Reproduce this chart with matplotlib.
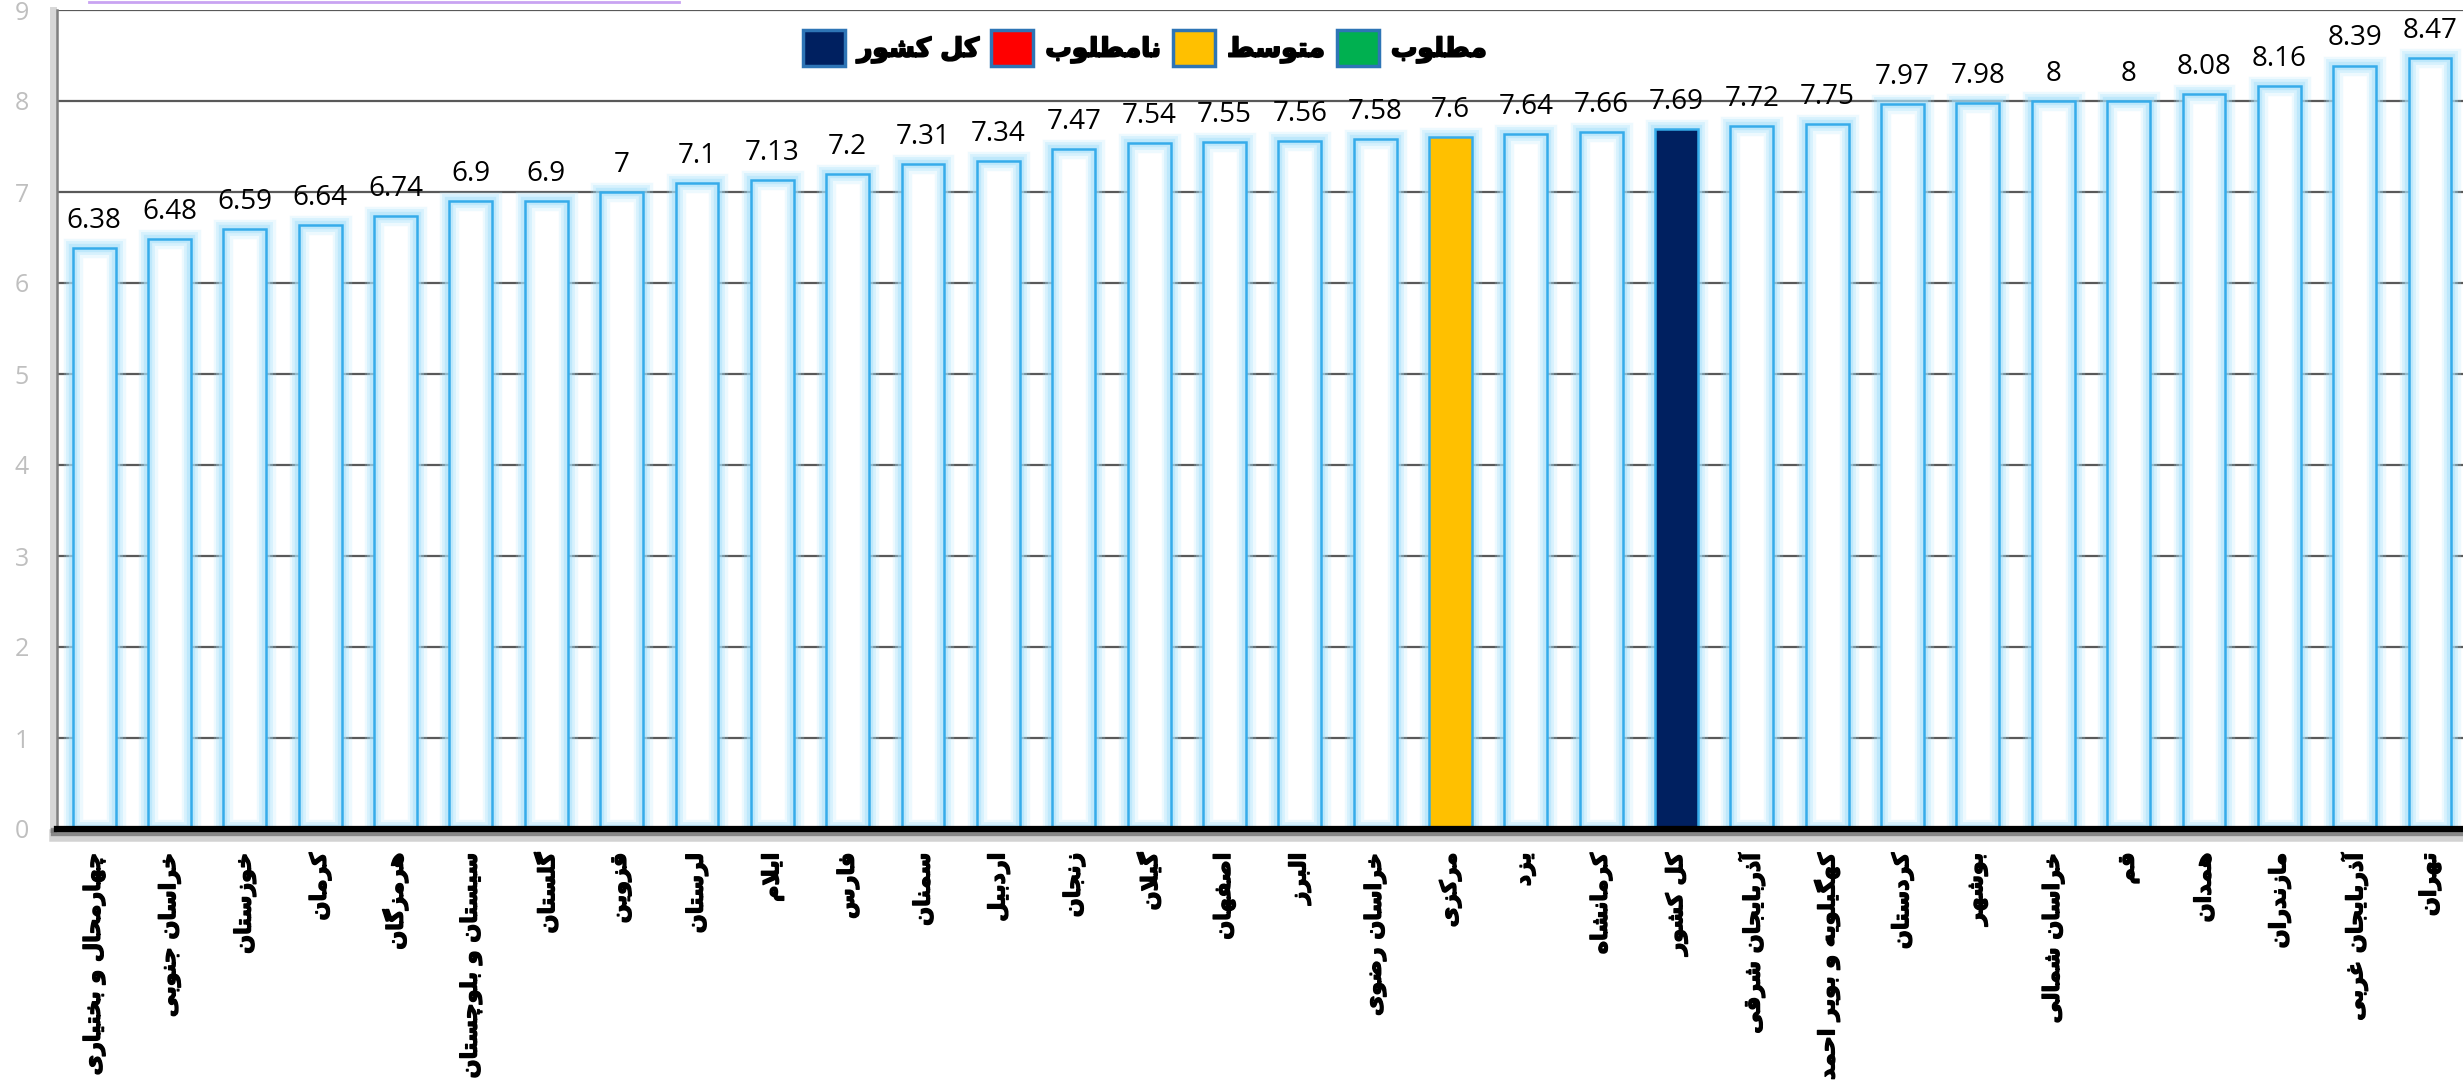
import numpy as np
import matplotlib
matplotlib.use("Agg")
import matplotlib.pyplot as plt
from matplotlib.patches import Patch
from matplotlib.lines import Line2D
import matplotlib.patheffects as pe

# ---------------- data ----------------
provinces = [
    "چهارمحال و بختیاری", "خراسان جنوبی", "خوزستان", "کرمان", "هرمزگان",
    "سیستان و بلوچستان", "گلستان", "قزوین", "لرستان", "ایلام", "فارس",
    "سمنان", "اردبیل", "زنجان", "گیلان", "اصفهان", "البرز", "خراسان رضوی",
    "مرکزی", "یزد", "کرمانشاه", "کل کشور", "آذربایجان شرقی",
    "کهگیلویه و بویر احمد", "کردستان", "بوشهر", "خراسان شمالی", "قم",
    "همدان", "مازندران", "آذربایجان غربی", "تهران",
]
scores = [
    6.38, 6.48, 6.59, 6.64, 6.74, 6.9, 6.9, 7, 7.1, 7.13, 7.2,
    7.31, 7.34, 7.47, 7.54, 7.55, 7.56, 7.58,
    7.6, 7.64, 7.66, 7.69, 7.72,
    7.75, 7.97, 7.98, 8, 8,
    8.08, 8.16, 8.39, 8.47,
]
average_province = "مرکزی"
national = "کل کشور"
legend_labels = ["کل کشور", "نامطلوب", "متوسط", "مطلوب"]
legend_colors = ["#002060", "#FF0000", "#FFC000", "#00B050"]
y_ticks = [0, 1, 2, 3, 4, 5, 6, 7, 8, 9]

# ------------- minimal Persian shaping (presentation forms + RTL) -------------
FORMS = {
    "\u0622": ("\uFE81", "\uFE82", None, None),
    "\u0623": ("\uFE83", "\uFE84", None, None),
    "\u0627": ("\uFE8D", "\uFE8E", None, None),
    "\u0628": ("\uFE8F", "\uFE90", "\uFE91", "\uFE92"),
    "\u067E": ("\uFB56", "\uFB57", "\uFB58", "\uFB59"),
    "\u062A": ("\uFE95", "\uFE96", "\uFE97", "\uFE98"),
    "\u062B": ("\uFE99", "\uFE9A", "\uFE9B", "\uFE9C"),
    "\u062C": ("\uFE9D", "\uFE9E", "\uFE9F", "\uFEA0"),
    "\u0686": ("\uFB7A", "\uFB7B", "\uFB7C", "\uFB7D"),
    "\u062D": ("\uFEA1", "\uFEA2", "\uFEA3", "\uFEA4"),
    "\u062E": ("\uFEA5", "\uFEA6", "\uFEA7", "\uFEA8"),
    "\u062F": ("\uFEA9", "\uFEAA", None, None),
    "\u0630": ("\uFEAB", "\uFEAC", None, None),
    "\u0631": ("\uFEAD", "\uFEAE", None, None),
    "\u0632": ("\uFEAF", "\uFEB0", None, None),
    "\u0698": ("\uFB8A", "\uFB8B", None, None),
    "\u0633": ("\uFEB1", "\uFEB2", "\uFEB3", "\uFEB4"),
    "\u0634": ("\uFEB5", "\uFEB6", "\uFEB7", "\uFEB8"),
    "\u0635": ("\uFEB9", "\uFEBA", "\uFEBB", "\uFEBC"),
    "\u0636": ("\uFEBD", "\uFEBE", "\uFEBF", "\uFEC0"),
    "\u0637": ("\uFEC1", "\uFEC2", "\uFEC3", "\uFEC4"),
    "\u0638": ("\uFEC5", "\uFEC6", "\uFEC7", "\uFEC8"),
    "\u0639": ("\uFEC9", "\uFECA", "\uFECB", "\uFECC"),
    "\u063A": ("\uFECD", "\uFECE", "\uFECF", "\uFED0"),
    "\u0641": ("\uFED1", "\uFED2", "\uFED3", "\uFED4"),
    "\u0642": ("\uFED5", "\uFED6", "\uFED7", "\uFED8"),
    "\u0643": ("\uFED9", "\uFEDA", "\uFEDB", "\uFEDC"),
    "\u06A9": ("\uFB8E", "\uFB8F", "\uFB90", "\uFB91"),
    "\u06AF": ("\uFB92", "\uFB93", "\uFB94", "\uFB95"),
    "\u0644": ("\uFEDD", "\uFEDE", "\uFEDF", "\uFEE0"),
    "\u0645": ("\uFEE1", "\uFEE2", "\uFEE3", "\uFEE4"),
    "\u0646": ("\uFEE5", "\uFEE6", "\uFEE7", "\uFEE8"),
    "\u0648": ("\uFEED", "\uFEEE", None, None),
    "\u0647": ("\uFEE9", "\uFEEA", "\uFEEB", "\uFEEC"),
    "\u064A": ("\uFEF1", "\uFEF2", "\uFEF3", "\uFEF4"),
    "\u0649": ("\uFEEF", "\uFEF0", None, None),
    "\u06CC": ("\uFBFC", "\uFBFD", "\uFBFE", "\uFBFF"),
    "LA": ("\uFEFB", "\uFEFC", None, None),
    "LAA": ("\uFEF5", "\uFEF6", None, None),
}


def shape_fa(s):
    toks = []
    i = 0
    while i < len(s):
        c = s[i]
        if c == "\u0644" and i + 1 < len(s) and s[i + 1] in ("\u0627", "\u0622"):
            toks.append("LA" if s[i + 1] == "\u0627" else "LAA")
            i += 2
        else:
            toks.append(c)
            i += 1
    out = []
    for k, t in enumerate(toks):
        if t not in FORMS:
            out.append(t)
            continue
        f = FORMS[t]
        prev = toks[k - 1] if k > 0 else None
        nxt = toks[k + 1] if k + 1 < len(toks) else None
        jp = prev in FORMS and FORMS[prev][2] is not None
        jn = f[2] is not None and nxt in FORMS
        if jp and jn:
            g = f[3]
        elif jp:
            g = f[1]
        elif jn:
            g = f[2]
        else:
            g = f[0]
        out.append(g)
    return "".join(reversed(out))


# ---------------- figure ----------------
W, H = 2463, 1087
fig = plt.figure(figsize=(W / 100, H / 100), dpi=100)
fig.patch.set_facecolor("white")

x0_px, y0_px, step_px = 56.5, 829, 75.35
ax = fig.add_axes([x0_px / W, 1 - y0_px / H, 32 * step_px / W, (y0_px - 10) / H])

x = np.arange(len(provinces))
bw = 0.57
edge_col = "#36ACEA"
glow_col = "#A6E1FB"

# white fill
ax.bar(x, scores, width=bw, color="white", edgecolor="none", zorder=2)
# glow
for lw, a in [(14, 0.2), (10, 0.3), (6, 0.5)]:
    ax.bar(x, scores, width=bw, facecolor="none", edgecolor=glow_col,
           linewidth=lw, alpha=a, zorder=3)
# coloured bars
fills = []
for p in provinces:
    if p == average_province:
        fills.append("#FFC000")
    elif p == national:
        fills.append("#002060")
    else:
        fills.append((1, 1, 1, 0))
ax.bar(x, scores, width=bw, color=fills, edgecolor=edge_col, linewidth=1.8, zorder=4)

# value labels
for xi, v in zip(x, scores):
    ax.annotate(f"{v:g}", (xi, v), xytext=(0, 14.5), textcoords="offset points",
                ha="center", va="baseline", fontsize=20,
                family=["Open Sans", "DejaVu Sans"], color="black", zorder=6)

ax.set_xlim(-0.5, 31.5)
ax.set_ylim(0, 9)
ax.set_yticks(y_ticks)
ax.set_yticklabels([str(t) for t in y_ticks], color="#BFBFBF", fontsize=18,
                   family=["Open Sans", "DejaVu Sans"])
ax.tick_params(axis="y", length=0, pad=20)

ax.set_xticks(x)
ax.set_xticklabels([shape_fa(p) for p in provinces], rotation=90,
                   fontsize=16, fontweight="bold", family=["DejaVu Sans"])
for lbl in ax.get_xticklabels():
    lbl.set_path_effects([pe.withStroke(linewidth=1.0, foreground="black")])
ax.tick_params(axis="x", length=0, pad=17)

ax.set_axisbelow(True)
ax.yaxis.grid(True, color="#595959", linewidth=1.6, zorder=0)
ax.xaxis.grid(False)

for s in ("top", "right"):
    ax.spines[s].set_visible(False)
ax.spines["left"].set_color("#808080")
ax.spines["left"].set_linewidth(1.8)
ax.spines["left"].set_path_effects([
    pe.Stroke(linewidth=5, foreground="#B0B0B0", alpha=0.5, offset=(-2.5, 0)),
    pe.Normal()])
ax.spines["bottom"].set_color("black")
ax.spines["bottom"].set_linewidth(4.5)
ax.spines["bottom"].set_zorder(5)
ax.spines["bottom"].set_path_effects([
    pe.Stroke(linewidth=9, foreground="#808080", alpha=0.35, offset=(-1, -4)),
    pe.Stroke(linewidth=6, foreground="#404040", alpha=0.5, offset=(-1, -2.5)),
    pe.Normal()])

# legend
handles = [Patch(facecolor=c, edgecolor="#2E75B6", linewidth=2.5) for c in legend_colors]
fs = 19
em = fs * 100 / 72
leg = fig.legend(handles, [shape_fa(l) for l in legend_labels], loc="center",
                 bbox_to_anchor=(1145 / W, 1 - 48 / H), ncol=4, frameon=False,
                 prop={"family": "DejaVu Sans", "weight": "bold", "size": fs},
                 handlelength=42 / em, handleheight=44 / em,
                 handletextpad=12 / em, columnspacing=12 / em, borderpad=0)
for t in leg.get_texts():
    t.set_path_effects([pe.withStroke(linewidth=1.3, foreground="black")])

# faint lavender stroke at top-left
fig.add_artist(Line2D([89 / W, 679 / W], [1 - 1.5 / H] * 2, color="#C9A3F2", lw=2))

fig.savefig("out.png", dpi=100, facecolor="white")
